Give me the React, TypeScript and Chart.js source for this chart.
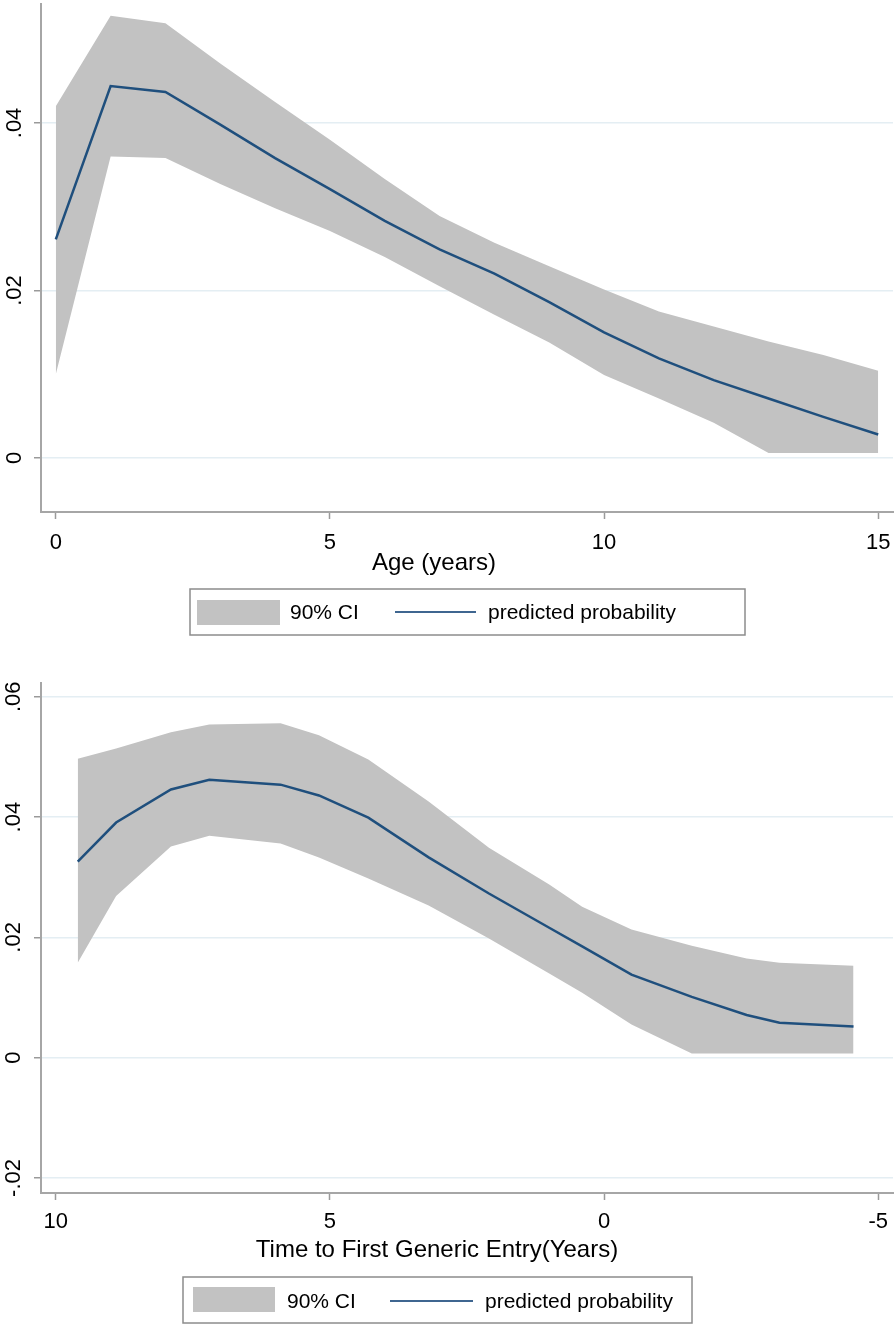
import React, { useEffect, useRef } from "react";
import { Chart, registerables } from "chart.js";

Chart.register(...registerables);

// ---------- Data: panel 1 (Age) ----------
const ageYears = [0, 1, 2, 3, 4, 5, 6, 7, 8, 9, 10, 11, 12, 13, 14, 15];
const agePredicted = [0.0261, 0.0444, 0.0437, 0.0398, 0.0358, 0.0321, 0.0283, 0.0249, 0.0220, 0.0186, 0.0150, 0.0119, 0.0093, 0.0071, 0.0049, 0.0028];
const ageUpper = [0.0420, 0.0528, 0.0519, 0.0471, 0.0425, 0.0380, 0.0333, 0.0289, 0.0257, 0.0229, 0.0201, 0.0175, 0.0157, 0.0139, 0.0123, 0.0104];
const ageLower = [0.0100, 0.0360, 0.0358, 0.0327, 0.0298, 0.0271, 0.0240, 0.0205, 0.0171, 0.0138, 0.0099, 0.0071, 0.0042, 0.0006, 0.0006, 0.0006];
const ageXTicks = [0, 5, 10, 15];
const ageXTickLabels = ["0", "5", "10", "15"];
const ageYTicks = [0, 0.02, 0.04];
const ageYTickLabels = ["0", ".02", ".04"];

// ---------- Data: panel 2 (Time to first generic entry) ----------
const entryYears = [9.6, 8.9, 7.9, 7.2, 5.9, 5.2, 4.3, 3.2, 2.1, 1.0, 0.4, -0.5, -1.6, -2.6, -3.2, -4.55];
const entryPredicted = [0.0326, 0.0391, 0.0446, 0.0462, 0.0454, 0.0436, 0.0399, 0.0333, 0.0273, 0.0216, 0.0185, 0.0138, 0.0101, 0.0071, 0.0058, 0.0052];
const entryUpper = [0.0497, 0.0514, 0.0541, 0.0554, 0.0556, 0.0536, 0.0496, 0.0426, 0.0349, 0.0288, 0.0251, 0.0213, 0.0186, 0.0165, 0.0158, 0.0153];
const entryLower = [0.0158, 0.0269, 0.0351, 0.0369, 0.0356, 0.0333, 0.0298, 0.0253, 0.0198, 0.0140, 0.0108, 0.0055, 0.0007, 0.0007, 0.0007, 0.0007];
const entryXTicks = [10, 5, 0, -5];
const entryXTickLabels = ["10", "5", "0", "-5"];
const entryYTicks = [-0.02, 0, 0.02, 0.04, 0.06];
const entryYTickLabels = ["-.02", "0", ".02", ".04", ".06"];

const legendLabels = ["90% CI", "predicted probability"];

const FONT = "'Liberation Sans', Arial, Helvetica, sans-serif";
const BAND = "#c2c2c2";
const LINE = "#1f4f7d";

type Layout = {
  padTop: number;
  padRight: number;
  yAxisWidth: number;
  xAxisHeight: number;
  xTickPadding: number;
  yTickPadding: number;
  titleX: number;
  titleY: number;
  legend: {
    x: number; y: number; w: number; h: number;
    rectX: number; rectY: number; rectW: number; rectH: number;
    t1X: number; lineX1: number; lineX2: number; t2X: number; midY: number;
  };
};

type PanelProps = {
  width: number;
  height: number;
  top: number;
  xs: number[];
  pred: number[];
  upper: number[];
  lower: number[];
  xMin: number;
  xMax: number;
  reverse: boolean;
  xTicks: number[];
  xTickLabels: string[];
  yMin: number;
  yMax: number;
  yTicks: number[];
  yTickLabels: string[];
  xTitle: string;
  layout: Layout;
};

function Panel(props: PanelProps) {
  const ref = useRef<HTMLCanvasElement | null>(null);

  useEffect(() => {
    const canvas = ref.current;
    if (!canvas) return;
    const L = props.layout;

    const decor = {
      id: "decor",
      afterDraw(chart: any) {
        const ctx = chart.ctx as CanvasRenderingContext2D;
        ctx.save();
        // x-axis title
        ctx.fillStyle = "#000";
        ctx.font = `24px ${FONT}`;
        ctx.textAlign = "center";
        ctx.textBaseline = "middle";
        ctx.fillText(props.xTitle, L.titleX, L.titleY);

        // legend
        const g = L.legend;
        ctx.fillStyle = "#fff";
        ctx.fillRect(g.x, g.y, g.w, g.h);
        ctx.strokeStyle = "#8c8c8c";
        ctx.lineWidth = 1.5;
        ctx.strokeRect(g.x, g.y, g.w, g.h);
        ctx.fillStyle = BAND;
        ctx.fillRect(g.rectX, g.rectY, g.rectW, g.rectH);
        ctx.strokeStyle = "#3f6690";
        ctx.lineWidth = 2;
        ctx.beginPath();
        ctx.moveTo(g.lineX1, g.midY);
        ctx.lineTo(g.lineX2, g.midY);
        ctx.stroke();
        ctx.fillStyle = "#000";
        ctx.font = `21px ${FONT}`;
        ctx.textAlign = "left";
        ctx.textBaseline = "middle";
        ctx.fillText(legendLabels[0], g.t1X, g.midY + 1);
        ctx.fillText(legendLabels[1], g.t2X, g.midY + 1);
        ctx.restore();
      },
    };

    const chart = new Chart(canvas, {
      type: "line",
      data: {
        datasets: [
          {
            label: legendLabels[1],
            data: props.xs.map((x, i) => ({ x, y: props.pred[i] })),
            borderColor: LINE,
            borderWidth: 2.5,
            pointRadius: 0,
            fill: false,
            tension: 0,
          },
          {
            label: legendLabels[0],
            data: props.xs.map((x, i) => ({ x, y: props.upper[i] })),
            borderWidth: 0,
            borderColor: "rgba(0,0,0,0)",
            backgroundColor: BAND,
            pointRadius: 0,
            fill: "+1",
            tension: 0,
          },
          {
            label: "lower",
            data: props.xs.map((x, i) => ({ x, y: props.lower[i] })),
            borderWidth: 0,
            borderColor: "rgba(0,0,0,0)",
            backgroundColor: BAND,
            pointRadius: 0,
            fill: false,
            tension: 0,
          },
        ],
      },
      options: {
        animation: false,
        responsive: false,
        maintainAspectRatio: false,
        devicePixelRatio: 1,
        layout: { padding: { top: L.padTop, right: L.padRight, left: 0, bottom: 0 } },
        plugins: {
          legend: { display: false },
          tooltip: { enabled: false },
          title: { display: false },
        },
        scales: {
          x: {
            type: "linear",
            min: props.xMin,
            max: props.xMax,
            reverse: props.reverse,
            afterBuildTicks: (scale: any) => {
              scale.ticks = props.xTicks.map((v) => ({ value: v }));
            },
            afterFit: (scale: any) => {
              scale.height = L.xAxisHeight;
              scale.paddingLeft = 0;
              scale.paddingRight = 0;
              scale.paddingTop = 0;
              scale.paddingBottom = 0;
            },
            grid: {
              drawOnChartArea: false,
              drawTicks: true,
              tickLength: 7,
              tickColor: "#9a9a9a",
              tickWidth: 1.5,
            },
            border: { display: true, color: "#a6a6a6", width: 2 },
            ticks: {
              autoSkip: false,
              maxRotation: 0,
              minRotation: 0,
              padding: L.xTickPadding,
              color: "#000",
              font: { family: FONT, size: 22 },
              callback: (_v: any, i: number) => props.xTickLabels[i],
            },
          },
          y: {
            type: "linear",
            min: props.yMin,
            max: props.yMax,
            afterBuildTicks: (scale: any) => {
              scale.ticks = props.yTicks.map((v) => ({ value: v }));
            },
            afterFit: (scale: any) => {
              scale.width = L.yAxisWidth;
              scale.paddingLeft = 0;
              scale.paddingRight = 0;
              scale.paddingTop = 0;
              scale.paddingBottom = 0;
            },
            grid: {
              drawOnChartArea: true,
              color: "#e4eef3",
              lineWidth: 1.5,
              drawTicks: true,
              tickLength: 7,
              tickColor: "#9a9a9a",
              tickWidth: 1.5,
            },
            border: { display: true, color: "#a6a6a6", width: 2 },
            ticks: {
              autoSkip: false,
              minRotation: 90,
              maxRotation: 90,
              crossAlign: "center",
              padding: L.yTickPadding,
              color: "#000",
              font: { family: FONT, size: 22 },
              callback: (_v: any, i: number) => props.yTickLabels[i],
            },
          },
        },
      },
      plugins: [decor],
    } as any);

    return () => {
      chart.destroy();
    };
  }, []);

  return (
    <canvas
      ref={ref}
      width={props.width}
      height={props.height}
      style={{ position: "absolute", left: 0, top: props.top, width: props.width, height: props.height, display: "block" }}
    />
  );
}

const layoutAge: Layout = {
  padTop: 4,
  padRight: 3,
  yAxisWidth: 41,
  xAxisHeight: 138,
  xTickPadding: 11,
  yTickPadding: 4,
  titleX: 434,
  titleY: 563,
  legend: {
    x: 190, y: 589, w: 555, h: 46,
    rectX: 197, rectY: 600, rectW: 83, rectH: 25,
    t1X: 290, lineX1: 395, lineX2: 476, t2X: 488, midY: 612,
  },
};

const layoutEntry: Layout = {
  padTop: 33,
  padRight: 3,
  yAxisWidth: 41,
  xAxisHeight: 135,
  xTickPadding: 9,
  yTickPadding: 1,
  titleX: 437,
  titleY: 600,
  legend: {
    x: 183, y: 627, w: 509, h: 46,
    rectX: 193, rectY: 637, rectW: 82, rectH: 25,
    t1X: 287, lineX1: 390, lineX2: 473, t2X: 485, midY: 651,
  },
};

export default function App() {
  return (
    <div style={{ position: "absolute", left: 0, top: 0, width: 896, height: 1328, background: "#fff" }}>
      <Panel
        width={896}
        height={650}
        top={0}
        xs={ageYears}
        pred={agePredicted}
        upper={ageUpper}
        lower={ageLower}
        xMin={-0.27}
        xMax={15.27}
        reverse={false}
        xTicks={ageXTicks}
        xTickLabels={ageXTickLabels}
        yMin={-0.00645}
        yMax={0.0542}
        yTicks={ageYTicks}
        yTickLabels={ageYTickLabels}
        xTitle="Age (years)"
        layout={layoutAge}
      />
      <Panel
        width={896}
        height={678}
        top={650}
        xs={entryYears}
        pred={entryPredicted}
        upper={entryUpper}
        lower={entryLower}
        xMin={-5.27}
        xMax={10.27}
        reverse={true}
        xTicks={entryXTicks}
        xTickLabels={entryXTickLabels}
        yMin={-0.0225}
        yMax={0.0623}
        yTicks={entryYTicks}
        yTickLabels={entryYTickLabels}
        xTitle="Time to First Generic Entry(Years)"
        layout={layoutEntry}
      />
    </div>
  );
}
